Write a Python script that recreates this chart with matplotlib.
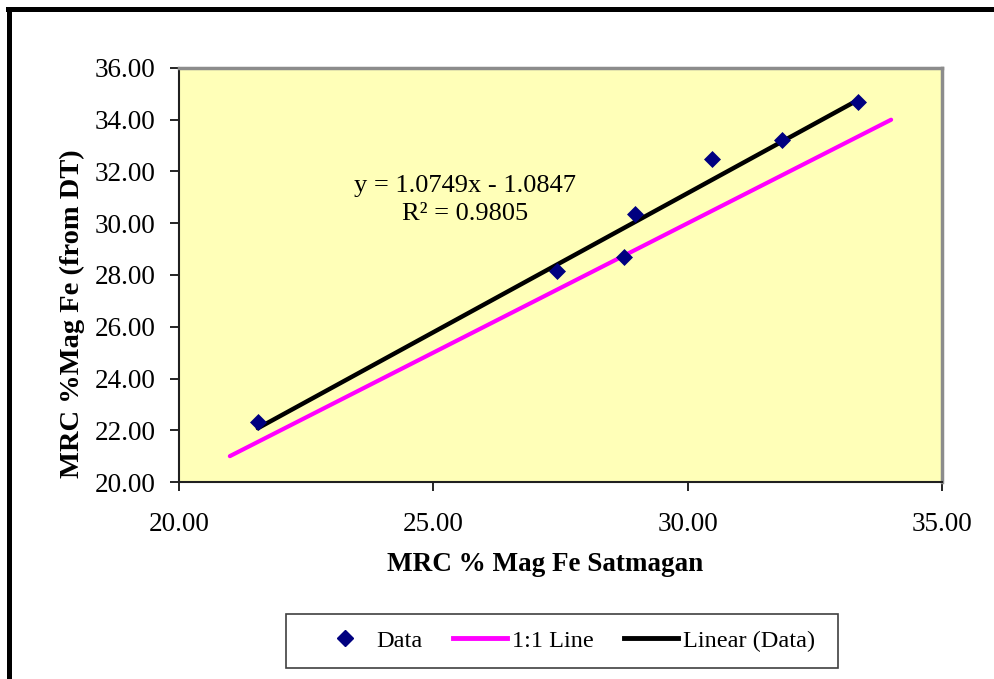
import matplotlib
matplotlib.use('Agg')
import matplotlib.pyplot as plt
from matplotlib.lines import Line2D
from matplotlib.patches import Rectangle
import numpy as np

plt.rcParams['font.family'] = ['Liberation Serif', 'DejaVu Serif']

# measured points: satmagan vs DT
satmagan = [21.55, 27.43, 28.75, 28.96, 30.48, 31.85, 33.35]
davis_tube = [22.32, 28.15, 28.70, 30.36, 32.48, 33.22, 34.69]
one_to_one = [21.0, 34.0]
slope, intercept, r2 = 1.0749, -1.0847, 0.9805

xticks = [20, 25, 30, 35]
yticks = [20, 22, 24, 26, 28, 30, 32, 34, 36]

fig = plt.figure(figsize=(9.95, 6.79), dpi=100)
ax = fig.add_axes([0.1799, 0.2901, 0.7668, 0.6098])
ax.set_facecolor('#FFFFB8')

ax.plot(one_to_one, one_to_one, c='#FF00FF', lw=3, solid_capstyle='round', zorder=2)
fit_x = np.array([min(satmagan), max(satmagan)])
ax.plot(fit_x, slope * fit_x + intercept, c='k', lw=3.2, solid_capstyle='round', zorder=3)
ax.scatter(satmagan, davis_tube, marker='D', s=75, c='#000080', zorder=4, linewidths=0)

ax.text(25.62, 30.9, f'y = {slope:.4f}x - {abs(intercept):.4f}\nR\u00b2 = {r2:.4f}',
        ha='center', va='center', fontsize=19, linespacing=1.38)

ax.set_xlim(20, 35)
ax.set_ylim(20, 36)
ax.set_xticks(xticks)
ax.set_yticks(yticks)
ax.set_xticklabels([f'{t:.2f}' for t in xticks])
ax.set_yticklabels([f'{t:.2f}' for t in yticks])
ax.tick_params(direction='out', length=6.5, width=1.2, labelsize=19.5, pad=10.5)
ax.tick_params(axis='x', pad=15)
for side in ('top', 'right'):
    ax.spines[side].set_color('#8C8C8C')
    ax.spines[side].set_linewidth(2.5)
for side in ('left', 'bottom'):
    ax.spines[side].set_color('#202020')
    ax.spines[side].set_linewidth(1.5)

ax.set_xlabel('MRC % Mag Fe Satmagan', fontsize=19.5, fontweight='bold')
ax.set_ylabel('MRC %Mag Fe (from DT)', fontsize=20.5, fontweight='bold')
ax.xaxis.set_label_coords(0.48, -0.17)
ax.yaxis.set_label_coords(-0.123, 0.406)

handles = [
    Line2D([], [], ls='none', marker='D', ms=8, mfc='#000080', mec='#000080'),
    Line2D([], [], c='#FF00FF', lw=3.5),
    Line2D([], [], c='k', lw=3.5),
]
leg = fig.legend(handles, ['Data', '1:1 Line', 'Linear (Data)'], ncol=3,
                 loc='center', bbox_to_anchor=(0.5694, 0.056), fontsize=17.5,
                 frameon=False, handlelength=2.22, handletextpad=0.2,
                 columnspacing=1.25, borderpad=0, borderaxespad=0)
fig.add_artist(Rectangle((0.2874, 0.0162), 0.5548, 0.0795, transform=fig.transFigure,
                         fill=False, ec='#404040', lw=1.2))

# outer chart frame (left and top edges visible)
fig.add_artist(Line2D([0.0095, 0.0095], [0.0, 0.9867], transform=fig.transFigure, c='k', lw=3.6))
fig.add_artist(Line2D([0.0077, 1.0], [0.9867, 0.9867], transform=fig.transFigure, c='k', lw=3.6))

fig.savefig('out.png', dpi=100)
